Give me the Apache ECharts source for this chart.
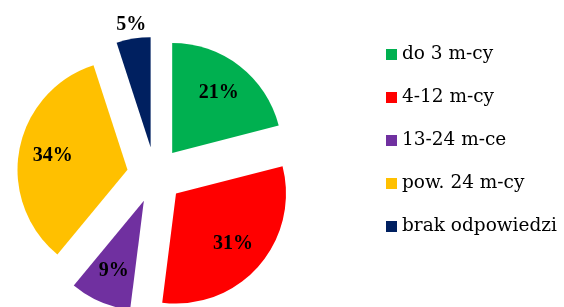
<!DOCTYPE html>
<html>
<head>
<meta charset="utf-8">
<script src="https://cdn.jsdelivr.net/npm/echarts@6/dist/echarts.min.js"></script>
<style>
  html, body { margin: 0; padding: 0; background: #fff; }
  #chart { width: 564px; height: 307px; }
</style>
</head>
<body>
<div id="chart"></div>
<script>
// dane wykresu
var categories = ['do 3 m-cy', '4-12 m-cy', '13-24 m-ce', 'pow. 24 m-cy', 'brak odpowiedzi'];
var values = [21, 31, 9, 34, 5];
var colors = ['#00B050', '#FF0000', '#7030A0', '#FFC000', '#002060'];

var legendFont = '"DejaVu Serif", serif';
var labelFont = '"Liberation Serif", serif';

// wycinki
var pieData = categories.map(function (name, i) {
    return {
        name: name,
        value: values[i],
        selected: true,
        itemStyle: { color: colors[i] },
        label: { show: i === 4 }
    };
});

// przezroczysta warstwa tylko na etykiety (wieksza srednica = etykiety dalej od srodka)
var labelData = categories.map(function (name, i) {
    return {
        name: name,
        value: values[i],
        selected: true,
        label: { show: i !== 4 }
    };
});

var labelStyle = {
    formatter: '{c}%',
    fontFamily: labelFont,
    fontWeight: 'bold',
    fontSize: 20,
    color: '#000'
};

var chart = echarts.init(document.getElementById('chart'));
chart.setOption({
    animation: false,
    legend: {
        orient: 'vertical',
        left: 381,
        top: 40,
        itemWidth: 11,
        itemHeight: 11,
        itemGap: 24,
        icon: 'rect',
        textStyle: { fontFamily: legendFont, fontSize: 18.5, color: '#000' },
        data: categories
    },
    series: [
        {
            type: 'pie',
            center: [155, 175],
            radius: 110,
            startAngle: 90,
            selectedMode: 'multiple',
            selectedOffset: 28,
            emphasis: { disabled: true },
            label: Object.assign({ position: 'outside' }, labelStyle),
            labelLine: { show: false, length: 14, length2: 0 },
            labelLayout: { align: 'center', dx: 5 },
            data: pieData
        },
        {
            type: 'pie',
            center: [155, 175],
            radius: 146,
            startAngle: 90,
            selectedMode: 'multiple',
            selectedOffset: 28,
            silent: true,
            legendHoverLink: false,
            itemStyle: { color: 'rgba(0,0,0,0)' },
            label: Object.assign({ position: 'inside' }, labelStyle),
            data: labelData
        }
    ]
});
</script>
</body>
</html>
